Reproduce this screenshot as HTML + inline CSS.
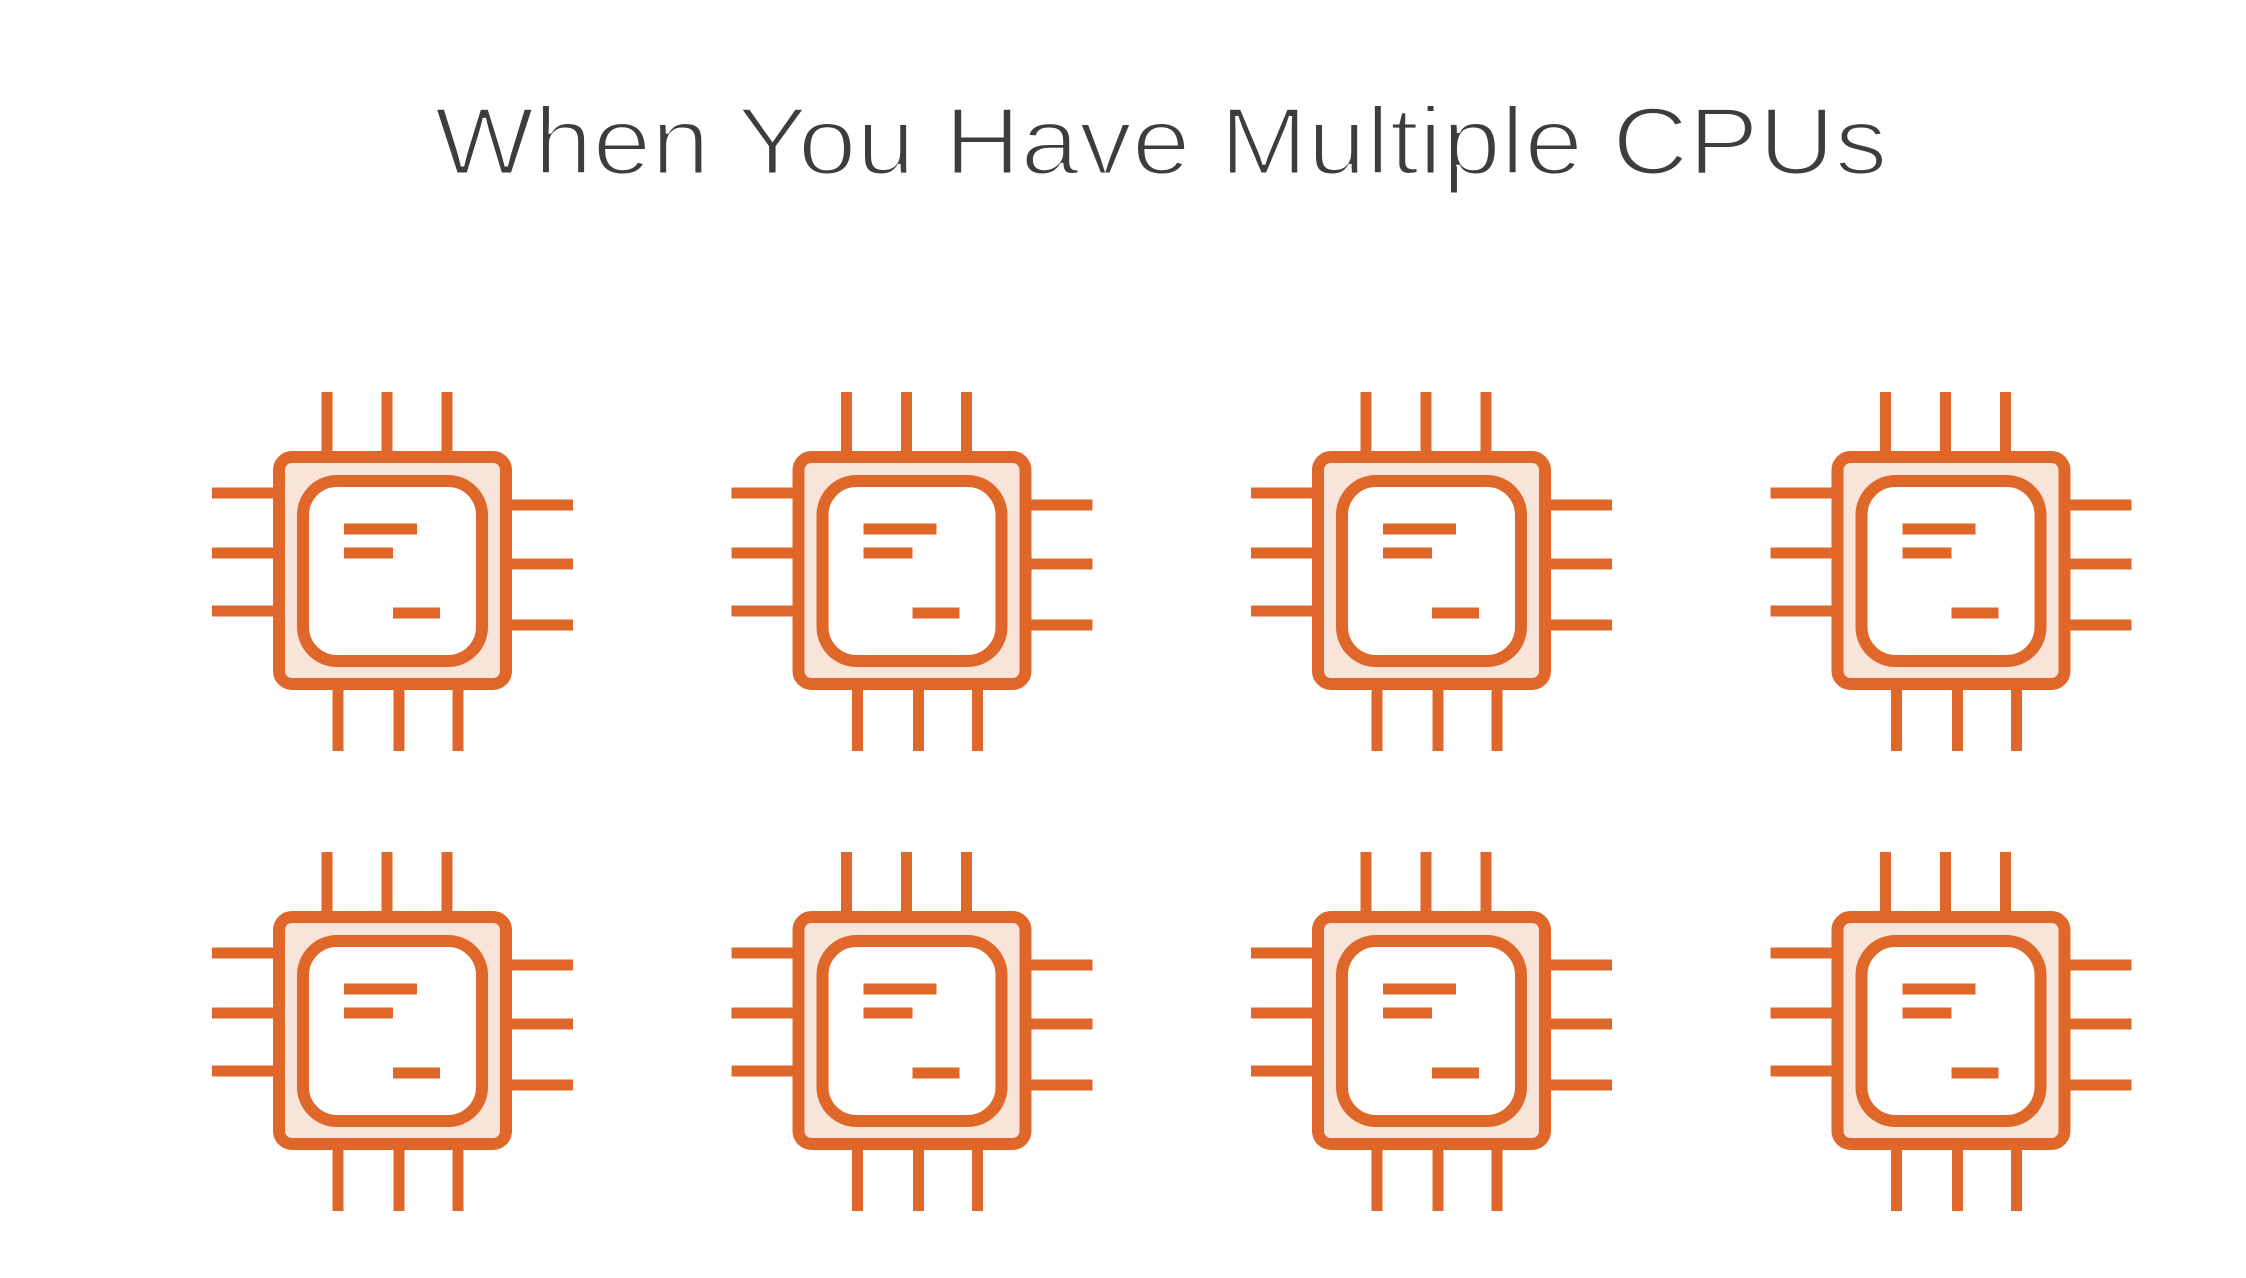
<!DOCTYPE html>
<html><head><meta charset="utf-8"><style>
html,body{margin:0;padding:0;background:#fff;}
svg{display:block;}
</style></head><body>
<svg width="2246" height="1278" viewBox="0 0 2246 1278" xmlns="http://www.w3.org/2000/svg">
<defs>
<g id="chip" stroke="#e0672a" stroke-width="11" fill="none">
  <line x1="327" y1="392" x2="327" y2="457"/>
  <line x1="387" y1="392" x2="387" y2="457"/>
  <line x1="447" y1="392" x2="447" y2="457"/>
  <line x1="338" y1="684" x2="338" y2="751"/>
  <line x1="399" y1="684" x2="399" y2="751"/>
  <line x1="458" y1="684" x2="458" y2="751"/>
  <line x1="212" y1="493" x2="279" y2="493"/>
  <line x1="212" y1="553" x2="279" y2="553"/>
  <line x1="212" y1="611" x2="279" y2="611"/>
  <line x1="506" y1="505" x2="573" y2="505"/>
  <line x1="506" y1="564" x2="573" y2="564"/>
  <line x1="506" y1="625" x2="573" y2="625"/>
  <rect x="279" y="457" width="227" height="227" rx="13" fill="#f9e4d9" stroke-width="12"/>
  <rect x="303" y="481" width="179" height="180" rx="34" fill="#fff" stroke-width="12"/>
  <line x1="344" y1="529" x2="417" y2="529"/>
  <line x1="344" y1="553" x2="393" y2="553"/>
  <line x1="393" y1="613" x2="440" y2="613"/>
</g>
</defs>
<text x="1161" y="174" text-anchor="middle" font-family="'Liberation Sans', sans-serif" font-size="96" fill="#3d3d3d" stroke="#fff" stroke-width="3" textLength="1453" lengthAdjust="spacingAndGlyphs">When You Have Multiple CPUs</text>
<use href="#chip" transform="translate(0,0)"/>
<use href="#chip" transform="translate(519.5,0)"/>
<use href="#chip" transform="translate(1039,0)"/>
<use href="#chip" transform="translate(1558.5,0)"/>
<use href="#chip" transform="translate(0,460)"/>
<use href="#chip" transform="translate(519.5,460)"/>
<use href="#chip" transform="translate(1039,460)"/>
<use href="#chip" transform="translate(1558.5,460)"/>
</svg>
</body></html>
